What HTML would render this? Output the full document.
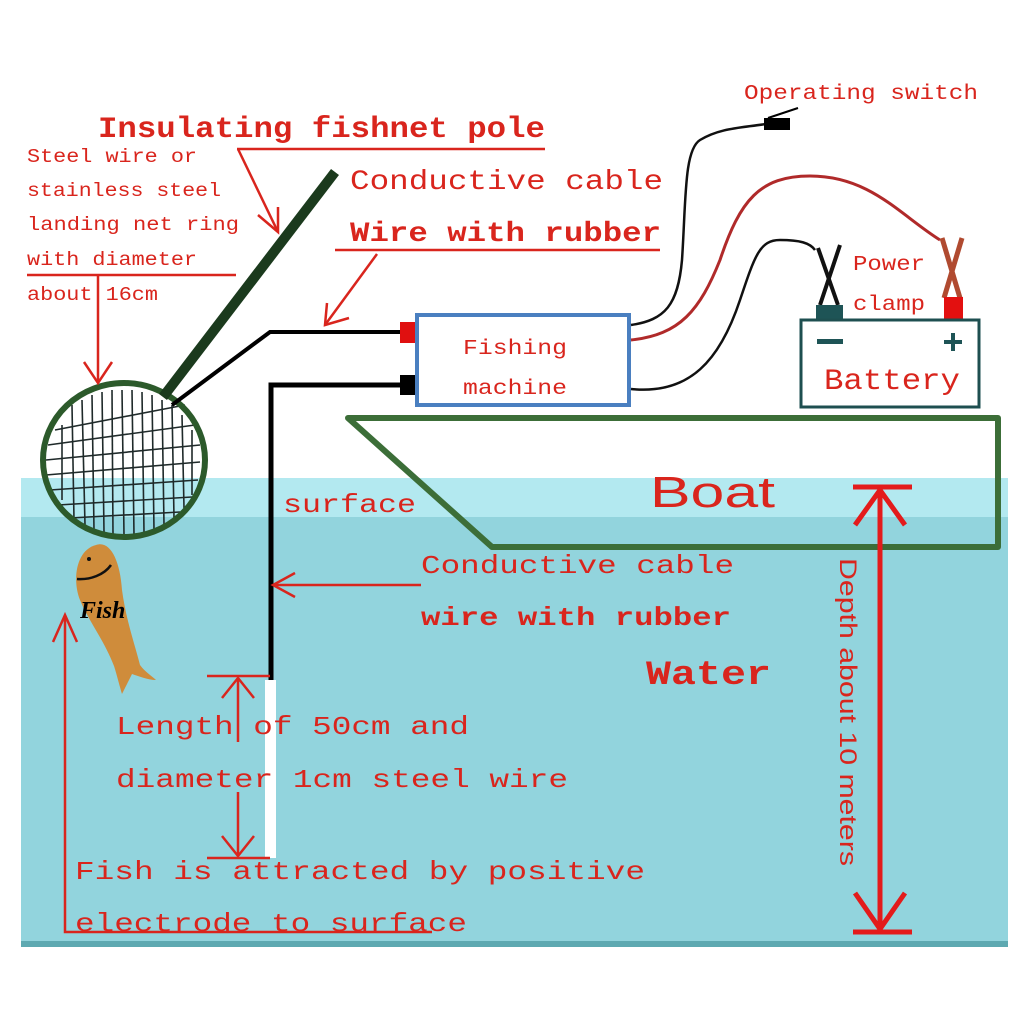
<!DOCTYPE html>
<html><head><meta charset="utf-8"><style>
html,body{margin:0;padding:0;background:#fff;}
svg{display:block;}
.t{font-family:"Liberation Mono",monospace;fill:#d9251d;}
</style></head><body>
<svg width="1024" height="1024" viewBox="0 0 1024 1024" xmlns="http://www.w3.org/2000/svg">
<rect width="1024" height="1024" fill="#fff"/>
<rect x="21" y="478" width="987" height="40" fill="#b3e9f0"/>
<rect x="21" y="517" width="987" height="425" fill="#92d4dd"/>
<rect x="21" y="941" width="987" height="6" fill="#5ea9b1"/>
<polygon points="348,418 998,418 998,547 492,547" fill="none" stroke="#3c6e38" stroke-width="6" stroke-linejoin="round"/>
<polygon points="372,424 992,424 992,478 427,478" fill="#fff"/>
<g stroke="#1f2a2a" stroke-width="1.6">
<line x1="62" y1="425" x2="62" y2="500"/><line x1="72" y1="405" x2="74" y2="520"/><line x1="82" y1="400" x2="85" y2="525"/>
<line x1="92" y1="395" x2="94" y2="530"/><line x1="102" y1="392" x2="104" y2="532"/><line x1="112" y1="390" x2="113" y2="535"/>
<line x1="122" y1="390" x2="124" y2="535"/><line x1="132" y1="390" x2="134" y2="535"/><line x1="142" y1="392" x2="144" y2="532"/>
<line x1="152" y1="395" x2="154" y2="530"/><line x1="162" y1="400" x2="164" y2="525"/><line x1="172" y1="405" x2="174" y2="518"/>
<line x1="182" y1="415" x2="184" y2="508"/><line x1="192" y1="430" x2="192" y2="495"/>
<line x1="55" y1="430" x2="185" y2="405"/><line x1="48" y1="445" x2="195" y2="425"/><line x1="46" y1="460" x2="200" y2="445"/>
<line x1="46" y1="475" x2="200" y2="462"/><line x1="50" y1="490" x2="198" y2="480"/><line x1="58" y1="505" x2="192" y2="497"/>
<line x1="70" y1="518" x2="180" y2="512"/>
</g>
<ellipse cx="124" cy="460" rx="81" ry="77" fill="none" stroke="#2c5a2b" stroke-width="6"/>
<line x1="335" y1="172" x2="163" y2="397" stroke="#1b3a1d" stroke-width="10"/>
<polyline points="172,405 270,332 402,332" fill="none" stroke="#000" stroke-width="4"/>
<polyline points="402,385 271,385 271,680" fill="none" stroke="#000" stroke-width="5"/>
<rect x="265" y="680" width="11" height="178" fill="#fff"/>
<rect x="400" y="322" width="18" height="21" fill="#e01010"/>
<rect x="400" y="375" width="18" height="20" fill="#000"/>
<rect x="417" y="315" width="212" height="90" fill="#fff" stroke="#4a7fc0" stroke-width="4"/>
<g lengthAdjust="spacingAndGlyphs">
<text class="t" x="463" y="354" font-size="21" textLength="104" lengthAdjust="spacingAndGlyphs">Fishing</text>
<text class="t" x="463" y="394" font-size="21" textLength="104" lengthAdjust="spacingAndGlyphs">machine</text>
</g>
<path d="M631,325 C665,320 678,305 682,260 C686,200 684,150 700,140 C720,128 740,128 766,124" fill="none" stroke="#111" stroke-width="2.5"/>
<rect x="764" y="118" width="26" height="12" fill="#000"/>
<line x1="768" y1="118" x2="798" y2="108" stroke="#000" stroke-width="2"/>
<path d="M631,340 C680,335 700,310 720,260 C740,200 760,176 810,176 C870,176 900,215 940,240" fill="none" stroke="#b02a2a" stroke-width="3"/>
<path d="M631,389 C690,395 720,360 740,300 C755,255 760,240 780,240 C800,240 810,243 815,250" fill="none" stroke="#111" stroke-width="2.5"/>
<g stroke="#111" stroke-width="4"><line x1="818" y1="248" x2="838" y2="305"/><line x1="840" y1="245" x2="820" y2="305"/></g>
<g stroke="#b04a30" stroke-width="5"><line x1="942" y1="238" x2="960" y2="298"/><line x1="962" y1="238" x2="944" y2="298"/></g>
<rect x="816" y="305" width="27" height="16" fill="#1e5456"/>
<rect x="944" y="297" width="19" height="24" fill="#e31010"/>
<rect x="801" y="320" width="178" height="87" fill="#fff" stroke="#1e4f50" stroke-width="3"/>
<rect x="817" y="339" width="26" height="5" fill="#1e5456"/>
<rect x="944" y="340" width="18" height="4" fill="#1e5456"/><rect x="951" y="333" width="4" height="18" fill="#1e5456"/>
<text class="t" x="824" y="389" font-size="30" textLength="136" lengthAdjust="spacingAndGlyphs">Battery</text>
<text class="t" x="744" y="99" font-size="21" textLength="234" lengthAdjust="spacingAndGlyphs">Operating switch</text>
<text class="t" x="853" y="270" font-size="21" textLength="72" lengthAdjust="spacingAndGlyphs">Power</text>
<text class="t" x="853" y="310" font-size="21" textLength="72" lengthAdjust="spacingAndGlyphs">clamp</text>
<text class="t" x="98" y="137" font-size="30" textLength="447" lengthAdjust="spacingAndGlyphs" font-weight="bold">Insulating fishnet pole</text>
<g stroke="#d9251d" stroke-width="2.5" fill="none">
<line x1="237" y1="149" x2="545" y2="149"/>
<line x1="238" y1="149" x2="278" y2="232"/><polyline points="258,215 278,232 278,207"/>
<line x1="27" y1="275" x2="236" y2="275"/>
<line x1="98" y1="275" x2="98" y2="383"/><polyline points="84,362 98,383 112,362"/>
<line x1="335" y1="250" x2="660" y2="250"/>
<line x1="377" y1="254" x2="325" y2="325"/><polyline points="327,303 325,325 349,318"/>
<line x1="421" y1="585" x2="273" y2="585"/><polyline points="295,573 273,585 295,597"/>
<polyline points="432,932 65,932 65,615"/><polyline points="53,642 65,615 77,642"/>
<line x1="207" y1="676" x2="270" y2="676"/><line x1="207" y1="858" x2="270" y2="858"/>
<line x1="238" y1="678" x2="238" y2="742"/><polyline points="222,698 238,678 254,698"/>
<line x1="238" y1="792" x2="238" y2="856"/><polyline points="222,836 238,856 254,836"/>
</g>
<g stroke="#e31b1b" stroke-width="5" fill="none">
<line x1="853" y1="487" x2="912" y2="487"/><line x1="853" y1="932" x2="912" y2="932"/>
<line x1="880" y1="490" x2="880" y2="929"/>
<polyline points="855,525 880,490 905,525"/><polyline points="855,893 880,929 905,893"/>
</g>
<text class="t" x="27" y="162" font-size="19" textLength="170" lengthAdjust="spacingAndGlyphs">Steel wire or</text>
<text class="t" x="27" y="196" font-size="19" textLength="194" lengthAdjust="spacingAndGlyphs">stainless steel</text>
<text class="t" x="27" y="230" font-size="19" textLength="212" lengthAdjust="spacingAndGlyphs">landing net ring</text>
<text class="t" x="27" y="265" font-size="19" textLength="170" lengthAdjust="spacingAndGlyphs">with diameter</text>
<text class="t" x="27" y="300" font-size="19" textLength="131" lengthAdjust="spacingAndGlyphs">about 16cm</text>
<text class="t" x="350" y="189" font-size="28" textLength="313" lengthAdjust="spacingAndGlyphs">Conductive cable</text>
<text class="t" x="350" y="241" font-size="28" font-weight="bold" textLength="311" lengthAdjust="spacingAndGlyphs">Wire with rubber</text>
<text class="t" x="283" y="512" font-size="26" textLength="133" lengthAdjust="spacingAndGlyphs">surface</text>
<text x="650" y="507" font-family="Liberation Sans,sans-serif" font-size="44" fill="#d9251d" textLength="125" lengthAdjust="spacingAndGlyphs">Boat</text>
<text class="t" x="421" y="573" font-size="26" textLength="313" lengthAdjust="spacingAndGlyphs">Conductive cable</text>
<text class="t" x="421" y="625" font-size="26" font-weight="bold" textLength="310" lengthAdjust="spacingAndGlyphs">wire with rubber</text>
<text class="t" x="646" y="684" font-size="34" font-weight="bold" textLength="125" lengthAdjust="spacingAndGlyphs">Water</text>
<text class="t" x="116" y="734" font-size="26" textLength="353" lengthAdjust="spacingAndGlyphs">Length of 50cm and</text>
<text class="t" x="116" y="787" font-size="26" textLength="452" lengthAdjust="spacingAndGlyphs">diameter 1cm steel wire</text>
<text class="t" x="75" y="879" font-size="26" textLength="570" lengthAdjust="spacingAndGlyphs">Fish is attracted by positive</text>
<text class="t" x="75" y="931" font-size="26" textLength="392" lengthAdjust="spacingAndGlyphs">electrode to surface</text>
<text transform="translate(840,558) rotate(90)" font-family="Liberation Sans,sans-serif" font-size="24" fill="#d9251d" textLength="308" lengthAdjust="spacingAndGlyphs">Depth about 10 meters</text>
<path d="M96,545 C110,540 120,560 122,590 C126,620 135,645 140,665 C145,672 152,676 156,680 C148,680 138,676 132,674 C128,682 124,690 122,694 C118,680 116,672 114,666 C104,640 88,620 80,600 C72,580 76,550 96,545 Z" fill="#cf8c3b"/>
<circle cx="89" cy="559" r="2" fill="#111"/>
<path d="M77,579 C90,580 104,575 111,565" fill="none" stroke="#111" stroke-width="2.5"/>
<text x="80" y="618" font-family="Liberation Serif,serif" font-style="italic" font-weight="bold" font-size="24" fill="#000">Fish</text>
</svg>
</body></html>
